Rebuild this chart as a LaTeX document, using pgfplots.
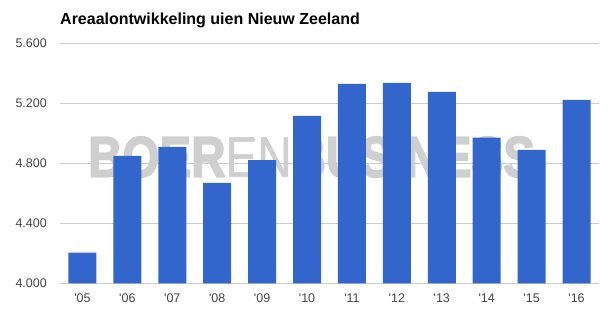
\documentclass[border=0pt]{standalone}
\usepackage{fontspec}
\setmainfont{Liberation Sans}
\newfontface\wmheavy{Liberation Sans Bold}[FakeBold=3]
\newfontface\wmlight{Liberation Sans}[FakeBold=1]
\usepackage{pgfplots}
\pgfplotsset{compat=1.18}
\definecolor{barblue}{HTML}{3366CC}
\definecolor{gridgray}{HTML}{CCCCCC}
\definecolor{labelgray}{HTML}{444444}
\definecolor{wm}{HTML}{CFCFCF}
\begin{document}
\begin{tikzpicture}
\begin{axis}[
  at={(0,0)}, anchor=south west,
  scale only axis, width=539bp, height=240bp,
  xmin=-0.5, xmax=11.5, ymin=4000, ymax=5600,
  ytick={4000,4400,4800,5200,5600},
  xtick={0,...,11},
  xticklabels={{\textquotesingle 05},{\textquotesingle 06},{\textquotesingle 07},{\textquotesingle 08},{\textquotesingle 09},{\textquotesingle 10},{\textquotesingle 11},{\textquotesingle 12},{\textquotesingle 13},{\textquotesingle 14},{\textquotesingle 15},{\textquotesingle 16}},
  axis line style={draw=none},
  major tick length=0pt,
  tick style={draw=none},
  ymajorgrids,
  grid style={gridgray, line width=1bp},
  /pgf/number format/.cd, 1000 sep={.}, assume math mode=true,
  /pgfplots/.cd,
  yticklabel style={font=\fontsize{12.5bp}{14bp}\selectfont, text=labelgray, anchor=east, inner sep=0pt, xshift=-13bp},
  xticklabel style={font=\fontsize{12.5bp}{14bp}\selectfont, text=labelgray, anchor=north, inner sep=0pt, yshift=-10bp},
  ybar, bar width=28bp,
]
\node[text=wm, inner sep=0pt] at (axis cs:5.1,4842) {\resizebox{447bp}{40bp}{\wmheavy BOER\wmlight EN\wmheavy BUSINESS}};
\addplot[fill=barblue, draw=none] coordinates {
 (0,4204) (1,4849) (2,4909) (3,4669) (4,4822) (5,5116)
 (6,5329) (7,5336) (8,5276) (9,4971) (10,4889) (11,5222)
};
\end{axis}
\node[anchor=base west, inner sep=0pt, font=\bfseries\fontsize{16bp}{19bp}\selectfont] at (0bp,258.3bp) {Areaalontwikkeling uien Nieuw Zeeland};
\pgfresetboundingbox
\path[use as bounding box] (-60bp,-29.7bp) rectangle (556bp,283.3bp);
\end{tikzpicture}
\end{document}
